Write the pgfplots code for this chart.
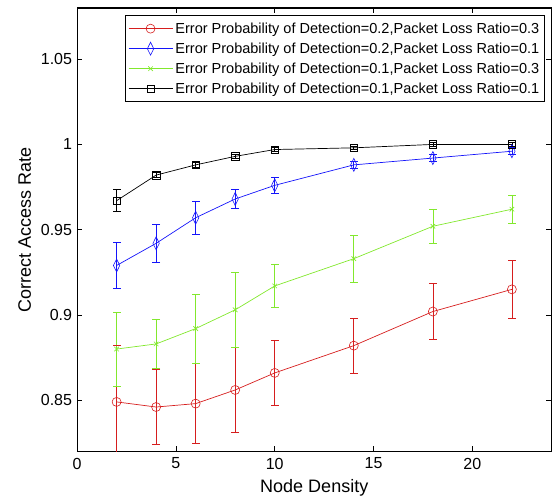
\documentclass[border=0pt]{standalone}
\usepackage{pgfplots}
\usepackage{pgfplotstable}
\pgfplotsset{compat=1.18}
\usepackage{fontspec}
\setmainfont{Liberation Sans}

\definecolor{cred}{RGB}{214,30,30}
\definecolor{cblue}{RGB}{20,20,250}
\definecolor{cgreen}{RGB}{130,232,45}

% x  y  err
\pgfplotstableread{
x y e
2 0.849 0.033
4 0.846 0.022
6 0.848 0.0235
8 0.856 0.025
10 0.866 0.019
14 0.882 0.016
18 0.902 0.0166
22 0.915 0.017
}\redtab
\pgfplotstableread{
x y e
2 0.929 0.0133
4 0.942 0.011
6 0.957 0.0097
8 0.968 0.0055
10 0.976 0.0045
14 0.988 0.002
18 0.992 0.002
22 0.996 0.002
}\bluetab
\pgfplotstableread{
x y e
2 0.880 0.0217
4 0.883 0.0145
6 0.892 0.0202
8 0.903 0.022
10 0.917 0.0126
14 0.933 0.0136
18 0.952 0.010
22 0.962 0.008
}\greentab
\pgfplotstableread{
x y e
2 0.967 0.0065
4 0.982 0.0015
6 0.988 0.0012
8 0.993 0.001
10 0.997 0.001
14 0.998 0.001
18 1.000 0.001
22 1.000 0.001
}\blacktab

% error bars of one series: vertical bar plus the two caps, in its colour
\newcommand{\ebars}[2]{%
  \addplot[#1, forget plot, line width=0.7pt, quiver={u=0, v=2*\thisrow{e}},
    quiver/every arrow/.append style={draw=#1}]
    table[x=x, y expr=\thisrow{y}-\thisrow{e}] {#2};
  \addplot[#1, forget plot, only marks, mark=-, mark size=4pt,
    mark options={draw=#1, line width=0.7pt}]
    table[x=x, y expr=\thisrow{y}+\thisrow{e}] {#2};
  \addplot[#1, forget plot, only marks, mark=-, mark size=4pt,
    mark options={draw=#1, line width=0.7pt}]
    table[x=x, y expr=\thisrow{y}-\thisrow{e}] {#2};
}

\begin{document}
\begin{tikzpicture}
\begin{axis}[
  scale only axis, width=474pt, height=443pt,
  xmin=0, xmax=24, ymin=0.82, ymax=1.08,
  xtick={0,5,10,15,20}, ytick={0.85,0.9,0.95,1,1.05},
  yticklabels={0.85,0.9,0.95,1,1.05},
  tick align=inside, tick pos=both, major tick length=5pt,
  axis line style={line width=1.1pt},
  tick style={black, line width=0.6pt},
  ticklabel style={font=\fontsize{16}{18}\selectfont},
  xticklabel style={yshift=-3pt},
  yticklabel style={xshift=-1.5pt},
  /pgf/number format/assume math mode=true,
  xlabel={Node Density}, ylabel={Correct Access Rate},
  label style={font=\fontsize{18}{20}\selectfont},
  xlabel style={inner sep=1pt, yshift=-6pt},
  ylabel style={yshift=3pt},
  clip=true,
  legend style={at={(0.987,0.984)}, anchor=north east, draw=black,
    line width=1.1pt, font=\fontsize{14.5}{16}\selectfont,
    row sep=0pt, inner sep=3pt,
    nodes={inner xsep=2.5pt, inner ysep=4pt}},
  legend cell align=left,
  legend image code/.code={\draw[line width=0.7pt,mark repeat=2,mark phase=2] plot coordinates {(0pt,0pt) (22pt,0pt) (44pt,0pt)};},
]
\addplot[cred, line width=0.7pt, mark=o, mark size=4.5pt, mark options={line width=0.6pt}]
  table[x=x, y=y] {\redtab};
\addlegendentry{Error Probability of Detection=0.2,Packet Loss Ratio=0.3}
\ebars{cred}{\redtab}
\addplot[cblue, line width=0.7pt, mark=diamond, mark size=6.5pt, mark options={line width=0.6pt, xscale=0.65}]
  table[x=x, y=y] {\bluetab};
\addlegendentry{Error Probability of Detection=0.2,Packet Loss Ratio=0.1}
\ebars{cblue}{\bluetab}
\addplot[cgreen, line width=0.7pt, mark=x, mark size=3.2pt, mark options={line width=0.6pt}]
  table[x=x, y=y] {\greentab};
\addlegendentry{Error Probability of Detection=0.1,Packet Loss Ratio=0.3}
\ebars{cgreen}{\greentab}
\addplot[black, line width=0.7pt, mark=square, mark size=3.7pt, mark options={line width=0.6pt}]
  table[x=x, y=y] {\blacktab};
\addlegendentry{Error Probability of Detection=0.1,Packet Loss Ratio=0.1}
\ebars{black}{\blacktab}
\end{axis}
% blank margins as in the reference
\path (current axis.north west) ++(-77pt,8pt);
\end{tikzpicture}
\end{document}
